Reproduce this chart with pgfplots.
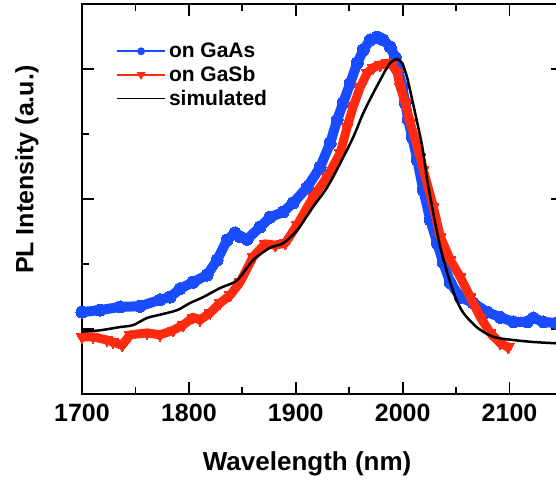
\documentclass[border=0pt]{standalone}
\usepackage{pgfplots}
\pgfplotsset{compat=1.18}
\usepackage{fontspec}
\setmainfont{Liberation Sans}
\definecolor{myblue}{RGB}{26,76,255}
\definecolor{myred}{RGB}{255,42,16}
\begin{document}
\begin{tikzpicture}
\begin{axis}[
  scale only axis, width=481pt, height=390pt,
  xmin=1700, xmax=2150, ymin=0, ymax=6,
  xtick={1700,1800,1900,2000,2100},
  minor xtick={1750,1850,1950,2050},
  ytick={1,3,5}, minor ytick={2,4},
  yticklabels={},
  /pgf/number format/1000 sep={},
  /pgf/number format/assume math mode=true,
  ticklabel style={font=\fontsize{25}{30}\selectfont\bfseries},
  xticklabel style={yshift=-7pt},
  major tick length=12pt, minor tick length=7pt,
  every tick/.style={black, line width=1.8pt},
  axis line style={line width=2.2pt},
  clip mode=individual,
  xlabel={Wavelength (nm)},
  ylabel={PL Intensity (a.u.)},
  xlabel style={at={(axis description cs:0.468,-0.1795)}, anchor=center, font=\fontsize{26}{30}\selectfont\bfseries},
  ylabel style={at={(axis description cs:-0.1143,0.575)}, anchor=center, font=\fontsize{25}{30}\selectfont\bfseries},
  legend image code/.code={\draw[mark repeat=2,mark phase=2,#1] plot coordinates {(0pt,0pt) (24pt,0pt) (48pt,0pt)};},
  legend cell align=left,
  legend style={draw=none, fill=none, at={(axis description cs:0,1)}, anchor=north west,
    xshift=31pt, yshift=-35pt, font=\fontsize{21}{25}\selectfont\bfseries,
    nodes={inner sep=2pt}, row sep=3pt, column sep=1pt},
]
\addlegendimage{color=myblue, line width=1.8pt, mark=*, mark size=3pt}
\addlegendentry{on GaAs}
\addlegendimage{color=myred, line width=1.8pt, mark=triangle*, mark size=3.4pt, mark options={rotate=180}}
\addlegendentry{on GaSb}
\addlegendimage{color=black, line width=1.8pt}
\addlegendentry{simulated}

% on GaAs
\addplot[color=myblue, line width=10pt, line join=round, mark=*, mark size=6pt, mark options={line width=0pt}, forget plot] coordinates {
(1700,1.26) (1716.9,1.29) (1735.6,1.34) (1754.3,1.35) (1773.0,1.45) (1782.4,1.49)
(1791.8,1.62) (1803.9,1.72) (1817.0,1.83) (1826.4,2.06) (1835.8,2.37) (1843.3,2.48)
(1847.9,2.42) (1854.5,2.38) (1866.7,2.57) (1876.0,2.72) (1888.2,2.80) (1897.6,2.94)
(1910.7,3.18) (1922.8,3.49) (1932.2,3.86) (1938.8,4.22) (1944.4,4.48) (1950.9,4.78)
(1957.5,5.09) (1963.1,5.29) (1969.7,5.45) (1976.2,5.49) (1981.8,5.45) (1988.4,5.34)
(1993.1,5.18) (1995.9,4.98) (1999.6,4.72) (2002.4,4.48) (2005.2,4.22) (2009.0,3.95)
(2013.7,3.60) (2019.3,3.14) (2025.8,2.68) (2032.4,2.32) (2038.0,2.02) (2044.6,1.71)
(2053.9,1.49) (2066.1,1.40) (2079.2,1.26) (2091.4,1.18) (2103.6,1.11) (2116.7,1.11)
(2122.3,1.17) (2131.6,1.11) (2143.8,1.09) (2150,1.09)
};
% on GaSb
\addplot[color=myred, line width=9pt, line join=round, mark=triangle*, mark size=6.5pt, mark options={rotate=180, line width=0pt}, forget plot] coordinates {
(1700,0.88) (1710.3,0.88) (1723.4,0.83) (1729.0,0.80) (1737.5,0.75) (1744.9,0.91)
(1760.9,0.94) (1773.0,0.91) (1785.2,0.98) (1794.6,1.06) (1803.9,1.18) (1810.5,1.14)
(1819.9,1.25) (1829.2,1.40) (1838.6,1.52) (1847.9,1.72) (1860.1,2.11) (1871.3,2.31)
(1880.7,2.29) (1890.1,2.32) (1901.3,2.60) (1916.3,3.03) (1929.4,3.34) (1941.6,3.71)
(1948.1,4.11) (1953.7,4.42) (1960.3,4.72) (1966.9,4.94) (1972.5,5.02) (1979.0,5.06)
(1985.6,5.09) (1990.3,5.06) (1994.9,4.94) (1997.8,4.72) (2002.4,4.48) (2007.1,4.17)
(2011.8,3.91) (2016.5,3.65) (2019.3,3.45) (2028.7,2.88) (2035.2,2.42) (2044.6,2.06)
(2053.9,1.80) (2063.3,1.49) (2072.7,1.18) (2082.0,0.94) (2091.4,0.78) (2098.9,0.72)
};
% simulated
\addplot[color=black, line width=2.5pt, smooth, tension=0.5, forget plot] coordinates {
(1700,0.96) (1716.9,0.98) (1735.6,1.03) (1747.8,1.06) (1760.9,1.17) (1773.0,1.22)
(1789.0,1.29) (1801.1,1.40) (1813.3,1.49) (1829.2,1.63) (1845.1,1.75) (1860.1,2.06)
(1876.0,2.25) (1888.2,2.32) (1901.3,2.52) (1916.3,2.88) (1929.4,3.18) (1941.6,3.55)
(1953.7,3.95) (1963.1,4.32) (1972.5,4.63) (1979.0,4.83) (1985.6,5.03) (1990.3,5.12)
(1994.9,5.15) (1999.6,5.09) (2004.3,4.86) (2009.0,4.52) (2013.7,4.17) (2018.4,3.80)
(2023.0,3.29) (2028.7,2.78) (2035.2,2.26) (2041.8,1.86) (2049.3,1.49) (2056.7,1.25)
(2069.9,1.02) (2084.8,0.88) (2103.6,0.83) (2122.3,0.80) (2143.8,0.78) (2150,0.78)
};
\end{axis}
\pgfresetboundingbox
\path ([shift={(-82pt,-86pt)}]current axis.south west) rectangle ([shift={(474pt,4pt)}]current axis.north west);
\end{tikzpicture}
\end{document}
